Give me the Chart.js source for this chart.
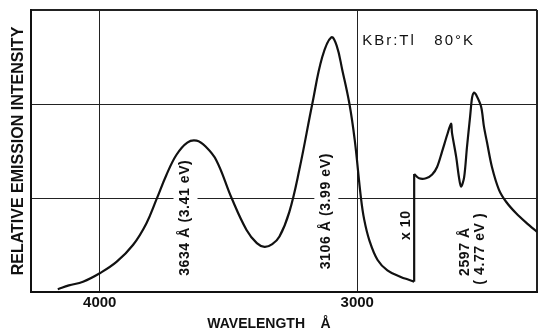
<!DOCTYPE html>
<html><head><meta charset="utf-8">
<script src="https://cdn.jsdelivr.net/npm/chart.js@4/dist/chart.umd.min.js"></script>
<style>html,body{margin:0;padding:0;background:#fff}#wrap{width:539px;height:333px}</style>
</head><body><div id="wrap"><canvas id="c" width="539" height="333"></canvas></div>
<script>
// ---- data ----
const wavelengths = [4163,4120,4065,4000,3935,3871,3819,3779,3742,3702,3660,3624,3590,3547,3488,3430,3390,3360,3330,3302,3264,3225,3174,3136,3101,3080,3058,3031,3010,2986,2973,2953,2921,2883,2831,2800,2779];
const intensity   = [0.03,0.07,0.11,0.20,0.32,0.50,0.73,0.99,1.24,1.46,1.59,1.61,1.55,1.40,1.00,0.66,0.52,0.48,0.51,0.59,0.85,1.30,2.01,2.50,2.71,2.62,2.36,2.01,1.62,1.01,0.77,0.55,0.34,0.23,0.16,0.13,0.11];
const jumpWavelengths = [2779,2779];
const jumpIntensity   = [0.11,1.255];
const x10Wavelengths = [2779,2760,2733,2709,2690,2671,2651,2636,2632,2616,2605,2597,2585,2574,2562,2554,2547,2539,2519,2508,2496,2477,2450,2422,2384,2341,2302];
const x10Intensity   = [1.255,1.21,1.21,1.25,1.33,1.49,1.67,1.79,1.69,1.44,1.22,1.12,1.22,1.54,1.86,2.07,2.12,2.10,1.97,1.76,1.59,1.33,1.09,0.96,0.84,0.73,0.64];
const xTickValues = [4000,3000];
const xMin = 2302, xMax = 4267;
const yMin = 0, yMax = 3;
const labelTexts = ['3634 Å (3.41 eV)','3106 Å (3.99 eV)','x 10','2597 Å','( 4.77 eV )'];
const labelWavelengths = [3667,3120,2810,2581,2523];
const labelIntensities = [0.79,0.86,0.71,0.43,0.46];
const labelGapsGrid = [true,true,false,false,false];
const sampleText = 'KBr:Tl   80°K';
const sampleWavelength = 2981, sampleIntensity = 2.67;

const FAM = "'Liberation Sans', Arial, sans-serif";
Chart.defaults.font.family = FAM;
const INK = '#111';
const pts = (xs, ys) => xs.map((v, i) => ({x: v, y: ys[i]}));
const lineDs = (data, t) => ({data, showLine:true, borderColor:INK, borderWidth:2.2, pointRadius:0, fill:false,
  borderJoinStyle:'round', tension: t});

const annot = {
  id:'annot',
  beforeDatasetsDraw(chart){
    const {ctx, scales:{x, y}} = chart;
    ctx.save();
    ctx.font = 'bold 14px ' + FAM;
    if ('letterSpacing' in ctx) ctx.letterSpacing = '0.6px';
    ctx.fillStyle = '#fff';
    labelTexts.forEach((t, i) => {
      if (!labelGapsGrid[i]) return;
      const w = ctx.measureText(t).width;
      const px = x.getPixelForValue(labelWavelengths[i]);
      const py = y.getPixelForValue(labelIntensities[i]);
      ctx.fillRect(px - 12, py - w/2, 24, w);
    });
    ctx.restore();
  },
  afterDatasetsDraw(chart){
    const {ctx, scales:{x, y}} = chart;
    ctx.save();
    ctx.fillStyle = INK;
    ctx.font = 'bold 14px ' + FAM;
    if ('letterSpacing' in ctx) ctx.letterSpacing = '0.6px';
    ctx.textAlign = 'center';
    ctx.textBaseline = 'middle';
    labelTexts.forEach((t, i) => {
      const px = x.getPixelForValue(labelWavelengths[i]);
      const py = y.getPixelForValue(labelIntensities[i]);
      ctx.save();
      ctx.translate(px, py);
      ctx.rotate(-Math.PI/2);
      ctx.fillText(t, 0, 0);
      ctx.restore();
    });
    ctx.font = '15px ' + FAM;
    if ('letterSpacing' in ctx) ctx.letterSpacing = '2px';
    ctx.textAlign = 'left';
    ctx.fillText(sampleText, x.getPixelForValue(sampleWavelength), y.getPixelForValue(sampleIntensity));
    ctx.restore();
  }
};

new Chart(document.getElementById('c'), {
  type:'scatter',
  data:{datasets:[
    lineDs(pts(wavelengths, intensity), 0.4),
    lineDs(pts(jumpWavelengths, jumpIntensity), 0),
    lineDs(pts(x10Wavelengths, x10Intensity), 0.3)
  ]},
  options:{
    responsive:false, animation:false, devicePixelRatio:1,
    layout:{padding:{top:10, right:1, left:0, bottom:0}},
    plugins:{
      legend:{display:false}, tooltip:{enabled:false},
      title:{display:true, position:'bottom', text:'WAVELENGTH    Å', color:INK,
        font:{size:14, weight:'bold'}, padding:0}
    },
    scales:{
      x:{type:'linear', reverse:true, min:xMin, max:xMax,
        afterBuildTicks: s => { s.ticks = [...xTickValues, xMin].map(v => ({value:v})); },
        afterFit: s => { s.height = 24.2; },
        ticks:{padding:2, autoSkip:false, maxRotation:0, color:INK, font:{size:15, weight:'bold'},
          callback: v => xTickValues.includes(v) ? String(v) : ''},
        grid:{color:'#222', drawTicks:false, lineWidth: c => (c.tick && c.tick.value === xMin) ? 2 : 1},
        border:{display:true, color:INK, width:2}
      },
      y:{min:yMin, max:yMax,
        afterFit: s => { s.width = 31; },
        ticks:{stepSize:1, display:false},
        grid:{color:'#222', drawTicks:false, lineWidth: c => (c.tick && c.tick.value === yMax) ? 2 : 1},
        border:{display:true, color:INK, width:2},
        title:{display:true, text:'RELATIVE EMISSION INTENSITY', color:INK,
          font:{size:16, weight:'bold'}, padding:{top:9.4, bottom:0}}
      }
    }
  },
  plugins:[annot]
});
</script></body></html>
